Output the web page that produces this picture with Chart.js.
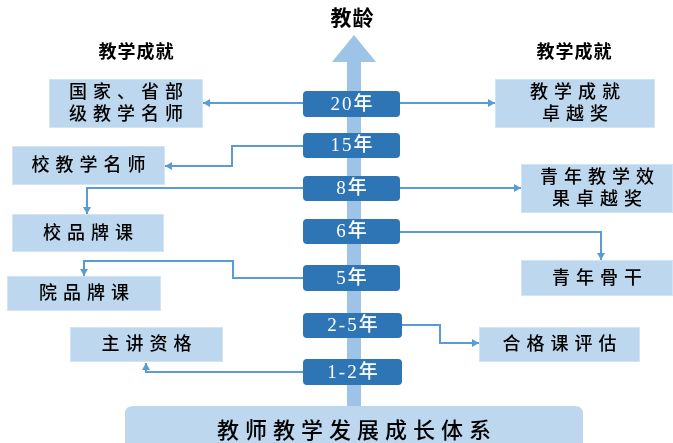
<!DOCTYPE html>
<html>
<head>
<meta charset="utf-8">
<script src="https://cdn.jsdelivr.net/npm/chart.js@4"></script>
<style>
  html, body { margin: 0; padding: 0; background: #fff; }
  canvas { display: block; }
</style>
</head>
<body>
<canvas id="diagram" width="673" height="443"></canvas>
<script>
// 文字内容
const axisTitle = '教龄';
const sideTitle = '教学成就';
const baseTitle = '教师教学发展成长体系';
const yearLabels = ['20年', '15年', '8年', '6年', '5年', '2-5年', '1-2年'];
const leftLabels = [['国家、省部', '级教学名师'], ['校教学名师'], ['校品牌课'], ['院品牌课'], ['主讲资格']];
const rightLabels = [['教学成就', '卓越奖'], ['青年教学效', '果卓越奖'], ['青年骨干'], ['合格课评估']];

// 版面位置 (坐标单位 = 像素, 原点左上)
const yearRows = [[91, 117], [133, 158], [176, 201], [219, 244], [265, 291], [313, 338], [359, 385]];
const leftBoxes = [[49, 79, 203, 128], [12, 146, 165, 185], [12, 214, 164, 252], [7, 276, 161, 311], [70, 327, 223, 362]];
const rightBoxes = [[495, 79, 655, 128], [521, 164, 673, 213], [521, 260, 673, 296], [479, 327, 640, 362]];
const links = [
    [[303, 103], [203, 103]],
    [[400, 103], [495, 103]],
    [[303, 146], [232, 146], [232, 166], [165, 166]],
    [[303, 188], [87, 188], [87, 214]],
    [[400, 188], [521, 188]],
    [[400, 232], [601, 232], [601, 260]],
    [[303, 278], [233, 278], [233, 261], [84, 261], [84, 276]],
    [[402, 325], [440, 325], [440, 343], [479, 343]],
    [[303, 372], [146, 372], [146, 363]]
];

const lightBlue = '#bdd7ee';
const darkBlue = '#2e75b6';
const shaftBlue = '#9dc3e6';
const lineBlue = '#5b9bd5';
const fontStack = '"Liberation Serif", "Noto Sans CJK SC", serif';

function roundRect(ctx, x, y, w, h, r) {
    ctx.beginPath();
    ctx.moveTo(x + r, y);
    ctx.lineTo(x + w - r, y);
    ctx.quadraticCurveTo(x + w, y, x + w, y + r);
    ctx.lineTo(x + w, y + h - r);
    ctx.quadraticCurveTo(x + w, y + h, x + w - r, y + h);
    ctx.lineTo(x + r, y + h);
    ctx.quadraticCurveTo(x, y + h, x, y + h - r);
    ctx.lineTo(x, y + r);
    ctx.quadraticCurveTo(x, y, x + r, y);
    ctx.closePath();
}

// 逐字绘制, 带字距
function spacedText(ctx, text, cx, cy, spacing) {
    const chars = Array.from(text);
    const widths = chars.map(c => ctx.measureText(c).width);
    const total = widths.reduce((a, b) => a + b, 0) + spacing * (chars.length - 1);
    let x = cx - total / 2;
    ctx.textAlign = 'left';
    ctx.textBaseline = 'middle';
    chars.forEach((c, i) => {
        ctx.fillText(c, x, cy);
        x += widths[i] + spacing;
    });
}

const diagramPlugin = {
    id: 'diagram',
    beforeDatasetsDraw(chart) {
        const ctx = chart.ctx;
        const X = v => chart.scales.x.getPixelForValue(v);
        const Y = v => chart.scales.y.getPixelForValue(v);
        ctx.save();

        // 中轴箭头
        ctx.fillStyle = shaftBlue;
        ctx.fillRect(X(347), Y(60), X(361) - X(347), Y(406) - Y(60));
        ctx.beginPath();
        ctx.moveTo(X(354), Y(35));
        ctx.lineTo(X(376), Y(62));
        ctx.lineTo(X(332), Y(62));
        ctx.closePath();
        ctx.fill();

        // 标题
        ctx.fillStyle = '#000';
        ctx.font = 'bold 21px ' + fontStack;
        spacedText(ctx, axisTitle, X(352), Y(20), 1);
        ctx.font = 'bold 18px ' + fontStack;
        spacedText(ctx, sideTitle, X(136), Y(53), 1);
        spacedText(ctx, sideTitle, X(574), Y(53), 1);

        // 成就框
        const drawBox = (b, lines) => {
            ctx.fillStyle = lightBlue;
            ctx.fillRect(X(b[0]), Y(b[1]), X(b[2]) - X(b[0]), Y(b[3]) - Y(b[1]));
            ctx.strokeStyle = '#d3e4f4';
            ctx.lineWidth = 1;
            ctx.strokeRect(X(b[0]) + 0.5, Y(b[1]) + 0.5, X(b[2]) - X(b[0]) - 1, Y(b[3]) - Y(b[1]) - 1);
            ctx.fillStyle = '#000';
            ctx.font = '500 18px ' + fontStack;
            const cx = (X(b[0]) + X(b[2])) / 2;
            const cy = (Y(b[1]) + Y(b[3])) / 2 + 1;
            lines.forEach((t, i) => {
                spacedText(ctx, t, cx, cy + (i - (lines.length - 1) / 2) * 22, 6);
            });
        };
        leftLabels.forEach((l, i) => drawBox(leftBoxes[i], l));
        rightLabels.forEach((l, i) => drawBox(rightBoxes[i], l));
        ctx.restore();
    },
    afterDatasetsDraw(chart) {
        const ctx = chart.ctx;
        const X = v => chart.scales.x.getPixelForValue(v);
        const Y = v => chart.scales.y.getPixelForValue(v);
        ctx.save();

        // 连线箭头
        ctx.fillStyle = lineBlue;
        links.forEach(pts => {
            const [x1, y1] = pts[pts.length - 2];
            const [x2, y2] = pts[pts.length - 1];
            const px = X(x2), py = Y(y2);
            const ang = Math.atan2(Y(y2) - Y(y1), X(x2) - X(x1));
            ctx.beginPath();
            ctx.moveTo(px, py);
            ctx.lineTo(px - 7 * Math.cos(ang) + 4 * Math.sin(ang), py - 7 * Math.sin(ang) - 4 * Math.cos(ang));
            ctx.lineTo(px - 7 * Math.cos(ang) - 4 * Math.sin(ang), py - 7 * Math.sin(ang) + 4 * Math.cos(ang));
            ctx.closePath();
            ctx.fill();
        });

        // 年份框
        yearLabels.forEach((lab, i) => {
            const [y0, y1] = yearRows[i];
            const x0 = X(303), x1 = X(lab.length > 3 ? 402 : 400);
            roundRect(ctx, x0, Y(y0), x1 - x0, Y(y1) - Y(y0), 4);
            ctx.fillStyle = darkBlue;
            ctx.fill();
            ctx.fillStyle = '#fff';
            ctx.font = '500 19px ' + fontStack;
            spacedText(ctx, lab, (x0 + x1) / 2, (Y(y0) + Y(y1)) / 2 + 1, 2);
        });

        // 底部框
        roundRect(ctx, X(125), Y(406), X(583) - X(125), Y(460) - Y(406), 8);
        ctx.fillStyle = lightBlue;
        ctx.fill();
        ctx.fillStyle = '#000';
        ctx.font = '500 22px ' + fontStack;
        spacedText(ctx, baseTitle, (X(125) + X(583)) / 2, Y(432), 6);
        ctx.restore();
    }
};

const ctx = document.getElementById('diagram').getContext('2d');
const chart = new Chart(ctx, {
    type: 'scatter',
    data: {
        datasets: links.map(pts => ({
            data: pts.map(([x, y]) => ({ x, y })),
            showLine: true,
            pointRadius: 0,
            borderColor: lineBlue,
            borderWidth: 2,
            tension: 0,
            fill: false,
            clip: false
        }))
    },
    options: {
        responsive: false,
        animation: false,
        devicePixelRatio: 1,
        layout: { padding: 0 },
        scales: {
            x: { type: 'linear', min: 0, max: 673, display: false },
            y: { type: 'linear', min: 0, max: 443, reverse: true, display: false }
        },
        plugins: {
            legend: { display: false },
            tooltip: { enabled: false }
        }
    },
    plugins: [diagramPlugin]
});
</script>
</body>
</html>
